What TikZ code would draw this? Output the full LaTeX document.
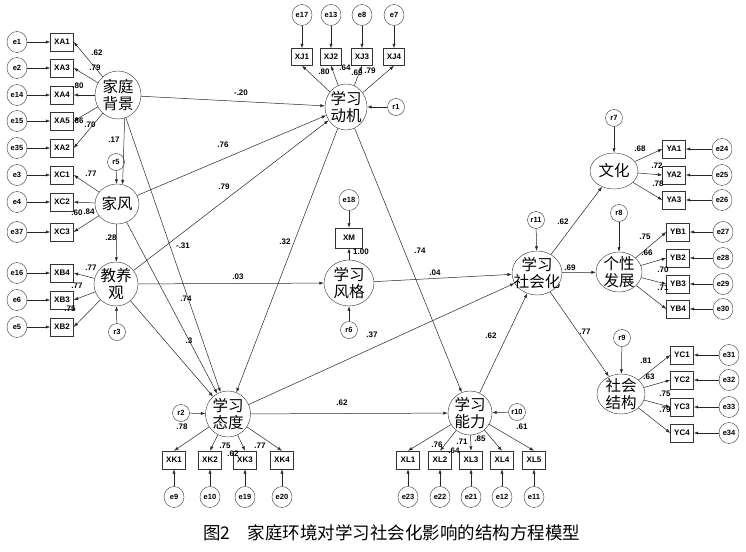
\documentclass[tikz,border=0pt]{standalone}
\usepackage{fontspec}
\setmainfont{Liberation Sans}
\newfontfamily\cjk{Noto Sans CJK SC}
\usetikzlibrary{shapes.geometric,arrows.meta}

\begin{document}
\begin{tikzpicture}[x=1pt,y=-1pt,
  latent/.style={ellipse, draw=black!80, inner sep=-6pt, align=center,
    font=\cjk\fontsize{15.5}{17}\selectfont},
  obs/.style={rectangle, draw=black!80, minimum width=23pt, minimum height=18pt,
    inner sep=0pt, font=\bfseries\fontsize{8}{9}\selectfont},
  errc/.style={ellipse, draw=black!80, minimum width=20pt, minimum height=21pt,
    inner sep=0pt, font=\bfseries\fontsize{7.5}{8}\selectfont},
  resc/.style={circle, draw=black!80, minimum size=17pt, inner sep=0pt,
    font=\bfseries\fontsize{7.5}{8}\selectfont},
  coef/.style={inner sep=0pt, font=\bfseries\fontsize{8}{9}\selectfont},
  link/.style={-{Latex[length=4.5pt,width=3.2pt]}, line width=0.5pt, black!85}]

  % Canvas
  \fill[white] (0,0) rectangle (746,551);
  \useasboundingbox (0,0) rectangle (746,551);

  % Latent variables
  \node[latent, minimum width=46pt, minimum height=48pt] (fam)  at (118,95)  {家庭\\背景};
  \node[latent, minimum width=44pt, minimum height=40pt] (style) at (117,204) {家风};
  \node[latent, minimum width=44pt, minimum height=44pt] (jyg)  at (116,284) {教养\\观};
  \node[latent, minimum width=42pt, minimum height=46pt] (mot)  at (346,107) {学习\\动机};
  \node[latent, minimum width=50pt, minimum height=46pt] (lsty) at (349,283) {学习\\风格};
  \node[latent, minimum width=50pt, minimum height=44pt] (soc)  at (537,273) {学习\\社会化};
  \node[latent, minimum width=48pt, minimum height=36pt] (cult) at (614,171) {文化};
  \node[latent, minimum width=46pt, minimum height=40pt] (pers) at (619,272) {个性\\发展};
  \node[latent, minimum width=48pt, minimum height=40pt] (sstr) at (621,394) {社会\\结构};
  \node[latent, minimum width=45pt, minimum height=46pt] (att)  at (228,414) {学习\\态度};
  \node[latent, minimum width=44pt, minimum height=44pt] (abil) at (470,413) {学习\\能力};

  % Residuals
  \node[resc] (r5)  at (116,162) {r5};
  \node[resc] (r3)  at (117,332) {r3};
  \node[resc] (r1)  at (396,107) {r1};
  \node[resc] (r6)  at (349,330) {r6};
  \node[resc] (r11) at (536,220) {r11};
  \node[resc] (r7)  at (614,118) {r7};
  \node[resc] (r8)  at (619,213) {r8};
  \node[resc] (r9)  at (622,338) {r9};
  \node[resc] (r2)  at (181,413) {r2};
  \node[resc] (r10) at (517,412) {r10};
  \draw[link] (r5) -- (style);
  \draw[link] (r3) -- (jyg);
  \draw[link] (r1) -- (mot);
  \draw[link] (r6) -- (lsty);
  \draw[link] (r11) -- (soc);
  \draw[link] (r7) -- (cult);
  \draw[link] (r8) -- (pers);
  \draw[link] (r9) -- (sstr);
  \draw[link] (r2) -- (att);
  \draw[link] (r10) -- (abil);

  % Left indicators
  \foreach \obs/\ev/\y in {XA1/e1/42, XA3/e2/68, XA4/e14/95, XA5/e15/121, XA2/e35/148}{
    \node[obs] (\obs) at (62,\y) {\obs};
    \node[errc] (\ev) at (17,\y) {\ev};
    \draw[link] (\ev) -- (\obs);
    \draw[link] (fam) -- (\obs.east);
  }
  \foreach \obs/\ev/\y in {XC1/e3/175, XC2/e4/202, XC3/e37/232}{
    \node[obs] (\obs) at (62,\y) {\obs};
    \node[errc] (\ev) at (17,\y) {\ev};
    \draw[link] (\ev) -- (\obs);
    \draw[link] (style) -- (\obs.east);
  }
  \foreach \obs/\ev/\y in {XB4/e16/273, XB3/e6/300, XB2/e5/327}{
    \node[obs] (\obs) at (62,\y) {\obs};
    \node[errc] (\ev) at (17,\y) {\ev};
    \draw[link] (\ev) -- (\obs);
    \draw[link] (jyg) -- (\obs.east);
  }

  % Top indicators
  \foreach \obs/\ev/\x in {XJ1/e17/302, XJ2/e13/331, XJ3/e8/362, XJ4/e7/394}{
    \node[obs, minimum width=21pt, minimum height=17pt] (\obs) at (\x,57) {\obs};
    \node[errc] (\ev) at (\x,15) {\ev};
    \draw[link] (\ev) -- (\obs);
    \draw[link] (mot) -- (\obs.south);
  }
  \node[obs, minimum width=27pt, minimum height=20pt] (XM) at (349,238) {XM};
  \node[errc] (e18) at (349,200) {e18};
  \draw[link] (e18) -- (XM);
  \draw[link] (lsty) -- (XM);

  % Bottom indicators
  \foreach \obs/\ev/\x in {XK1/e9/174, XK2/e10/210, XK3/e19/245, XK4/e20/282}{
    \node[obs] (\obs) at (\x,460) {\obs};
    \node[errc] (\ev) at (\x,497) {\ev};
    \draw[link] (\ev) -- (\obs);
    \draw[link] (att) -- (\obs.north);
  }
  \foreach \obs/\ev/\x in {XL1/e23/408, XL2/e22/440, XL3/e21/471, XL4/e12/502, XL5/e11/534}{
    \node[obs] (\obs) at (\x,460) {\obs};
    \node[errc] (\ev) at (\x,497) {\ev};
    \draw[link] (\ev) -- (\obs);
    \draw[link] (abil) -- (\obs.north);
  }

  % Right indicators
  \foreach \obs/\ev/\y in {YA1/e24/149, YA2/e25/175, YA3/e26/200}{
    \node[obs] (\obs) at (674,\y) {\obs};
    \node[errc] (\ev) at (722,\y) {\ev};
    \draw[link] (\ev) -- (\obs);
    \draw[link] (cult) -- (\obs.west);
  }
  \foreach \obs/\ev/\y in {YB1/e27/232, YB2/e28/258, YB3/e29/284, YB4/e30/309}{
    \node[obs] (\obs) at (678,\y) {\obs};
    \node[errc] (\ev) at (723,\y) {\ev};
    \draw[link] (\ev) -- (\obs);
    \draw[link] (pers) -- (\obs.west);
  }
  \foreach \obs/\ev/\y in {YC1/e31/355, YC2/e32/380, YC3/e33/407, YC4/e34/433}{
    \node[obs] (\obs) at (682,\y) {\obs};
    \node[errc] (\ev) at (729,\y) {\ev};
    \draw[link] (\ev) -- (\obs);
    \draw[link] (sstr) -- (\obs.west);
  }

  % Structural paths
  \draw[link] (fam) -- (mot);
  \draw[link] (fam.-74) -- (style.74);
  \draw[link] (fam) -- (att);
  \draw[link] (style) -- (mot);
  \draw[link] (style) -- (jyg);
  \draw[link] (style) -- (att);
  \draw[link] (jyg) -- (mot);
  \draw[link] (jyg) -- (lsty);
  \draw[link] (jyg) -- (att);
  \draw[link] (mot) -- (att);
  \draw[link] (mot) -- (abil);
  \draw[link] (lsty) -- (soc);
  \draw[link] (att) -- (soc);
  \draw[link] (att) -- (abil);
  \draw[link] (abil) -- (soc);
  \draw[link] (soc) -- (cult);
  \draw[link] (soc) -- (pers);
  \draw[link] (soc) -- (sstr);

  % Coefficients
  \foreach \x/\y/\t in {97/53/.62, 95/68/.79, 78/86/.80, 78/121/.86, 90/125/.70,
      91/174/.77, 77/213/.60, 89/212/.84, 91/268/.77, 77/286/.77, 70/309/.75,
      114/140/.17, 111/238/.28, 241/93/-.20, 223/145/.76, 224/187/.79,
      183/246/-.31, 238/277/.03, 186/299/.74, 189/341/.3, 285/242/.32,
      361/252/1.00, 420/251/.74, 435/273/.04, 372/335/.37, 491/336/.62,
      342/403/.62, 324/72/.80, 345/68/.64, 357/73/.69, 370/71/.79,
      182/427/.78, 225/446/.75, 233/454/.62, 260/446/.77,
      437/445/.76, 454/451/.64, 462/442/.71, 480/439/.85, 522/427/.61,
      563/222/.62, 570/268/.69, 585/332/.77,
      640/149/.68, 657/166/.72, 658/184/.78,
      645/237/.75, 647/253/.66, 663/270/.70, 663/288/.71,
      646/361/.81, 649/377/.63, 665/394/.75, 665/410/.79}{
    \node[coef] (k\x-\y) at (\x,\y) {\t};
  }

  % Caption
  \node[anchor=west, inner sep=0pt, font=\cjk\fontsize{17.5}{18}\selectfont] (cap) at (203,533)
    {图2\hspace{1em}家庭环境对学习社会化影响的结构方程模型};

\end{tikzpicture}
\end{document}
